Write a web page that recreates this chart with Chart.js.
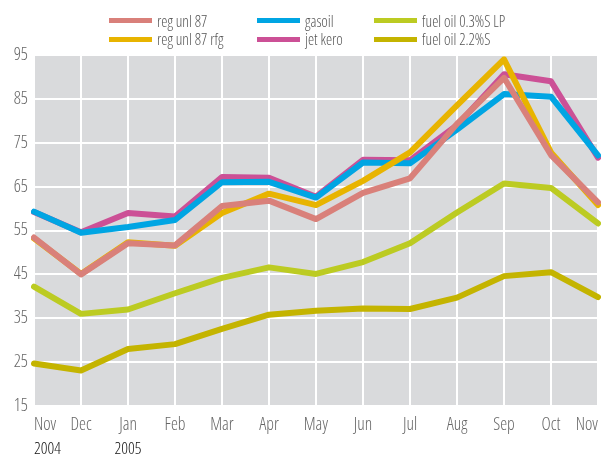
<!DOCTYPE html>
<html>
<head>
<meta charset="utf-8">
<script src="https://cdn.jsdelivr.net/npm/chart.js@4/dist/chart.umd.min.js"></script>
<style>
  html, body { margin: 0; padding: 0; background: #ffffff; }
  #wrap { position: relative; width: 611px; height: 457px; }
  #wrap canvas { position: absolute; left: 0; top: 0; }
  .lg { position: absolute; display: flex; align-items: center; height: 18px;
        font-family: "Open Sans", sans-serif; font-stretch: condensed; font-weight: 300;
        font-size: 15.5px; color: #555; white-space: nowrap; }
  .lg .sw { width: 43px; height: 5px; margin-right: 5px; }
</style>
</head>
<body>
<div id="wrap">
  <canvas id="c" width="611" height="457"></canvas>
</div>
<script>
// ---- data ----
const months = ["Nov", "Dec", "Jan", "Feb", "Mar", "Apr", "May", "Jun", "Jul", "Aug", "Sep", "Oct", "Nov"];
const years = ["2004", "", "2005", "", "", "", "", "", "", "", "", "", ""];
const yTicks = [15, 25, 35, 45, 55, 65, 75, 85, 95];

const regUnl87    = [53.4, 45.0, 52.1, 51.6, 60.6, 61.8, 57.6, 63.6, 66.9, 79.3, 89.8, 72.2, 61.4];
const regUnl87Rfg = [53.2, 45.1, 52.3, 51.5, 59.0, 63.4, 60.8, 66.3, 72.8, 83.5, 94.0, 72.8, 60.8];
const gasoil      = [59.3, 54.5, 55.8, 57.4, 66.0, 66.1, 62.5, 70.5, 70.3, 78.0, 86.1, 85.5, 72.1];
const jetKero     = [59.2, 54.6, 59.0, 58.2, 67.2, 67.0, 62.7, 71.1, 71.0, 79.0, 90.6, 89.0, 71.6];
const fuelOil03   = [42.2, 36.0, 37.0, 40.7, 44.2, 46.6, 45.1, 47.8, 52.1, 59.1, 65.7, 64.7, 56.6];
const fuelOil22   = [24.7, 23.1, 28.0, 29.1, 32.6, 35.8, 36.7, 37.2, 37.1, 39.7, 44.6, 45.5, 39.8];

const seriesNames = ["reg unl 87", "reg unl 87 rfg", "gasoil", "jet kero", "fuel oil 0.3%S LP", "fuel oil 2.2%S"];
const seriesData  = [regUnl87, regUnl87Rfg, gasoil, jetKero, fuelOil03, fuelOil22];

// ---- styles ----
const seriesColors = ["#d9807a", "#e8b400", "#00a5e3", "#cc5096", "#bccb22", "#c4b400"];
// legend grid cell (column, row) for each series
const legendCell = [[0, 0], [0, 1], [1, 0], [1, 1], [2, 0], [2, 1]];
const legendColX = [109, 257, 374];
const legendRowY = [11.5, 30];

const FAMILY = '"Open Sans", sans-serif';
const WEIGHT = '300 condensed';

// HTML legend
const wrap = document.getElementById('wrap');
seriesNames.forEach((name, i) => {
  const d = document.createElement('div');
  d.className = 'lg';
  d.style.left = legendColX[legendCell[i][0]] + 'px';
  d.style.top = legendRowY[legendCell[i][1]] + 'px';
  const sw = document.createElement('span');
  sw.className = 'sw';
  sw.style.background = seriesColors[i];
  const t = document.createElement('span');
  t.textContent = name;
  d.appendChild(sw); d.appendChild(t);
  wrap.appendChild(d);
});

const plotBg = {
  id: 'plotBg',
  beforeDraw(chart) {
    const { ctx, chartArea: a } = chart;
    ctx.save();
    ctx.fillStyle = '#d9dadc';
    ctx.fillRect(a.left, a.top, a.right - a.left, a.bottom - a.top);
    ctx.restore();
  }
};

new Chart(document.getElementById('c'), {
  type: 'line',
  data: {
    labels: months,
    datasets: seriesData.map((d, i) => ({
      label: seriesNames[i],
      data: d,
      borderColor: seriesColors[i],
      backgroundColor: seriesColors[i],
      borderWidth: 6,
      pointRadius: 0,
      tension: 0,
      fill: false,
      borderCapStyle: 'round',
      borderJoinStyle: 'round'
    }))
  },
  options: {
    responsive: false,
    animation: false,
    layout: { padding: { top: 55, right: 13, left: 0, bottom: 0 } },
    plugins: { legend: { display: false }, tooltip: { enabled: false } },
    scales: {
      x: {
        type: 'category',
        offset: false,
        weight: 0,
        grid: { color: '#ffffff', lineWidth: 2, drawTicks: false },
        border: { display: false },
        ticks: {
          autoSkip: false, maxRotation: 0, align: 'inner', padding: 9,
          color: '#666666', font: { family: FAMILY, weight: WEIGHT, size: 17.5 }
        },
        afterFit(s) { s.height = 28; }
      },
      x2: {
        type: 'category',
        labels: years,
        position: 'bottom',
        offset: false,
        weight: 1,
        grid: { display: false, drawTicks: false },
        border: { display: false },
        ticks: {
          autoSkip: false, maxRotation: 0, align: 'inner', padding: 5,
          color: '#111111', font: { family: FAMILY, weight: WEIGHT, size: 16.5 }
        },
        afterFit(s) { s.height = 23; }
      },
      y: {
        min: 15, max: 95,
        afterBuildTicks(s) { s.ticks = yTicks.map(v => ({ value: v })); },
        grid: { color: '#ffffff', lineWidth: 2, drawTicks: false },
        border: { display: false },
        ticks: { padding: 6, color: '#666666', font: { family: FAMILY, weight: WEIGHT, size: 17.5 } },
        afterFit(s) { s.width = 34; }
      }
    }
  },
  plugins: [plotBg]
});
</script>
</body>
</html>
